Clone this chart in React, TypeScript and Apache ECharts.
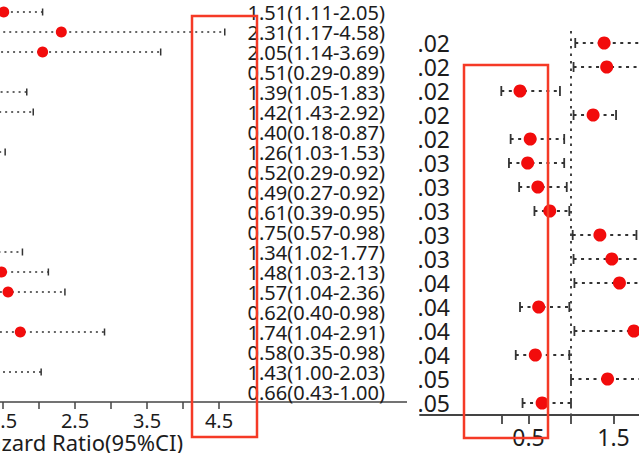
import React, { useEffect, useRef } from "react";
import * as echarts from "echarts";

// ---- data ----
const hr = [1.51, 2.31, 2.05, 0.51, 1.39, 1.42, 0.40, 1.26, 0.52, 0.49, 0.61, 0.75, 1.34, 1.48, 1.57, 0.62, 1.74, 0.58, 1.43, 0.66];
const lower = [1.11, 1.17, 1.14, 0.29, 1.05, 1.03, 0.18, 1.03, 0.29, 0.27, 0.39, 0.57, 1.02, 1.03, 1.04, 0.40, 1.04, 0.35, 1.00, 0.43];
const upper = [2.05, 4.58, 3.69, 0.89, 1.83, 1.92, 0.87, 1.53, 0.92, 0.92, 0.95, 0.98, 1.77, 2.13, 2.36, 0.98, 2.91, 0.98, 2.03, 1.00];
const ciText = [
  "1.51(1.11-2.05)", "2.31(1.17-4.58)", "2.05(1.14-3.69)", "0.51(0.29-0.89)", "1.39(1.05-1.83)",
  "1.42(1.43-2.92)", "0.40(0.18-0.87)", "1.26(1.03-1.53)", "0.52(0.29-0.92)", "0.49(0.27-0.92)",
  "0.61(0.39-0.95)", "0.75(0.57-0.98)", "1.34(1.02-1.77)", "1.48(1.03-2.13)", "1.57(1.04-2.36)",
  "0.62(0.40-0.98)", "1.74(1.04-2.91)", "0.58(0.35-0.98)", "1.43(1.00-2.03)", "0.66(0.43-1.00)",
];
// right panel shows rows 5..20 of the same table
const rightStart = 4;
const pValues = ["0.02", "0.02", "0.02", "0.02", "0.02", "0.03", "0.03", "0.03", "0.03", "0.03", "0.04", "0.04", "0.04", "0.04", "0.05", "0.05"];
const leftTicks = [1.5, 2, 2.5, 3, 3.5, 4, 4.5];
const leftTickLabels = [1.5, 2.5, 3.5, 4.5];
const rightTicks = [0.18, 0.5, 1, 1.5, 2, 2.5];
const rightTickLabels = [0.5, 1.5, 2.5];
const axisTitle = "Hazard Ratio(95%CI)";

const FONT = "Noto Sans";
const RED = "#f20c0c";
const BOX = "#f53a26";
const INK = "#1c1c1c";

function errorSeries(rows: number[], capH: number, dash: number[], lw: number) {
  return {
    type: "custom",
    xAxisIndex: 0,
    yAxisIndex: 0,
    silent: true,
    clip: false,
    encode: { x: [0, 1], y: 2 },
    data: rows.map((r, i) => [lower[r], upper[r], i]),
    renderItem: (_p: any, api: any) => {
      const row = api.value(2);
      const a = api.coord([api.value(0), row]);
      const b = api.coord([api.value(1), row]);
      const h = capH / 2;
      return {
        type: "group",
        children: [
          { type: "line", shape: { x1: a[0], y1: a[1], x2: b[0], y2: b[1] }, style: { stroke: "#333", lineWidth: lw, lineDash: dash } },
          { type: "line", shape: { x1: a[0], y1: a[1] - h, x2: a[0], y2: a[1] + h }, style: { stroke: "#333", lineWidth: lw } },
          { type: "line", shape: { x1: b[0], y1: b[1] - h, x2: b[0], y2: b[1] + h }, style: { stroke: "#333", lineWidth: lw } },
        ],
      };
    },
  };
}

function leftOption(): any {
  const rows = hr.map((_, i) => i);
  const cats = rows.map((i) => String(i));
  const pxPerUnit = 72;
  const min = 2 - 39 / pxPerUnit;
  const max = min + 407 / pxPerUnit;
  return {
    animation: false,
    grid: { left: 0, top: 2, width: 407, height: 400, containLabel: false, outerBoundsMode: "none" },
    xAxis: {
      type: "value",
      min,
      max,
      splitLine: { show: false },
      axisLine: { show: true, lineStyle: { color: "#444", width: 1.6 } },
      axisTick: { show: true, length: 7, customValues: leftTicks, lineStyle: { color: "#444", width: 1.5 } },
      axisLabel: {
        show: true,
        customValues: leftTickLabels,
        margin: 8,
        fontFamily: FONT,
        fontSize: 20,
        lineHeight: 20,
        color: INK,
        hideOverlap: false,
        formatter: (v: number) => v.toFixed(1),
      },
    },
    yAxis: [
      { type: "category", data: cats, inverse: true, show: false },
      {
        type: "category",
        data: ciText,
        inverse: true,
        position: "right",
        axisLine: { show: false },
        axisTick: { show: false },
        splitLine: { show: false },
        axisLabel: { inside: true, interval: 0, margin: 22, fontFamily: FONT, fontSize: 20, lineHeight: 20, color: INK },
      },
    ],
    graphic: [
      {
        type: "text",
        x: 183,
        y: 442,
        style: { text: axisTitle, fontFamily: FONT, fontSize: 22, lineHeight: 20, fill: INK, align: "right", verticalAlign: "middle" },
      },
      {
        type: "rect",
        z: 100,
        shape: { x: 192, y: 16, width: 65, height: 421 },
        style: { fill: "none", stroke: BOX, lineWidth: 2.5 },
      },
    ],
    series: [
      errorSeries(rows, 7, [2, 4], 1.5),
      {
        type: "scatter",
        xAxisIndex: 0,
        yAxisIndex: 0,
        symbolSize: 11,
        itemStyle: { color: RED, opacity: 1 },
        data: rows.map((r, i) => [hr[r], i]),
        z: 5,
      },
    ],
  };
}

function rightOption(): any {
  const rows = hr.slice(rightStart).map((_, i) => i + rightStart);
  const cats = rows.map((i) => String(i));
  const pxPerUnit = 85;
  const width = 219;
  const min = 1 - 151 / pxPerUnit;
  const max = min + width / pxPerUnit;
  return {
    animation: false,
    grid: { left: 1, top: 31, width, height: 384, containLabel: false, outerBoundsMode: "none" },
    xAxis: {
      type: "value",
      min,
      max,
      splitLine: { show: false },
      axisLine: { show: true, lineStyle: { color: "#444", width: 1.8 } },
      axisTick: { show: true, length: 9, customValues: rightTicks.filter((v) => v <= max), lineStyle: { color: "#444", width: 1.8 } },
      axisLabel: {
        show: true,
        customValues: rightTickLabels.filter((v) => v <= max),
        margin: 10,
        fontFamily: FONT,
        fontSize: 23,
        lineHeight: 23,
        color: INK,
        hideOverlap: false,
        formatter: (v: number) => v.toFixed(1),
      },
    },
    yAxis: [
      { type: "category", data: cats, inverse: true, show: false },
      {
        type: "category",
        data: pValues,
        inverse: true,
        position: "left",
        offset: -30,
        axisLine: { show: false },
        axisTick: { show: false },
        splitLine: { show: false },
        axisLabel: { interval: 0, margin: 0, fontFamily: FONT, fontSize: 23, lineHeight: 24, color: INK },
      },
    ],
    graphic: [
      {
        type: "rect",
        z: 100,
        shape: { x: 45, y: 65, width: 84, height: 373 },
        style: { fill: "none", stroke: BOX, lineWidth: 2.5 },
      },
    ],
    series: [
      errorSeries(rows, 10, [3, 4.5], 1.8),
      {
        type: "scatter",
        xAxisIndex: 0,
        yAxisIndex: 0,
        symbolSize: 13,
        itemStyle: { color: RED, opacity: 1 },
        data: rows.map((r, i) => [hr[r], i]),
        z: 5,
        markLine: {
          silent: true,
          symbol: "none",
          label: { show: false },
          lineStyle: { color: "#444", width: 2, type: [2.5, 5] },
          data: [{ xAxis: 1 }],
        },
      },
    ],
  };
}

function Chart({ option, style }: { option: any; style: React.CSSProperties }) {
  const ref = useRef<HTMLDivElement>(null);
  useEffect(() => {
    if (!ref.current) return;
    const chart = echarts.init(ref.current, undefined, { renderer: "svg" });
    chart.setOption(option);
    return () => chart.dispose();
  }, []);
  return <div ref={ref} style={{ position: "absolute", overflow: "hidden", ...style }} />;
}

export default function App() {
  return (
    <div style={{ position: "fixed", left: 0, top: 0, width: 639, height: 453, background: "#fff", overflow: "hidden" }}>
      <Chart option={leftOption()} style={{ left: 0, top: 0, width: 407, height: 453 }} />
      <Chart option={rightOption()} style={{ left: 419, top: 0, width: 220, height: 453 }} />
    </div>
  );
}
